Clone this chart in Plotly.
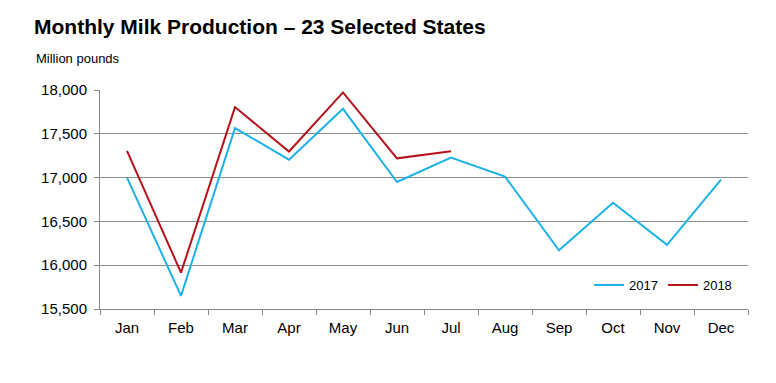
import plotly.graph_objects as go

months = ["Jan", "Feb", "Mar", "Apr", "May", "Jun", "Jul", "Aug", "Sep", "Oct", "Nov", "Dec"]
prod_2017 = [17000, 15650, 17565, 17205, 17785, 16950, 17228, 17012, 16170, 16712, 16232, 16978]
prod_2018 = [17305, 15915, 17805, 17298, 17972, 17220, 17300]
y_ticks = [15500, 16000, 16500, 17000, 17500, 18000]

# page body has an 8px default margin, so the figure is 8px smaller
W, H = 768, 375
L, R, T, B = 92, 28, 82, 74
plot_w = W - L - R
plot_h = H - T - B

fig = go.Figure()
fig.add_trace(go.Scatter(x=months, y=prod_2017, mode="lines", name="2017",
                         line=dict(color="#1CB2E8", width=2)))
fig.add_trace(go.Scatter(x=months[:len(prod_2018)], y=prod_2018, mode="lines", name="2018",
                         line=dict(color="#B3121B", width=2)))

fig.update_layout(
    width=W, height=H,
    margin=dict(l=L, r=R, t=T, b=B),
    paper_bgcolor="white", plot_bgcolor="white",
    font=dict(family="Liberation Sans, Arial, sans-serif", color="#000"),
    title=dict(text="<b>Monthly Milk Production – 23 Selected States</b>",
               x=26 / W, xanchor="left", y=1 - 19 / H, yanchor="middle",
               font=dict(size=21, color="#000")),
    showlegend=True,
    legend=dict(orientation="h", x=(589 - 100) / plot_w, y=(309 - 285) / plot_h,
                xanchor="left", yanchor="middle",
                font=dict(size=13), bgcolor="rgba(0,0,0,0)", itemwidth=30),
    annotations=[dict(text="Million pounds", x=(34 - 100) / plot_w, y=1 + (90 - 58) / plot_h,
                      xref="paper", yref="paper",
                      xanchor="left", yanchor="middle", showarrow=False,
                      font=dict(size=13, color="#000"))],
)

fig.update_xaxes(type="category", categoryorder="array", categoryarray=months,
                 showline=True, linecolor="#888", linewidth=1,
                 ticks="outside", tickson="boundaries", ticklen=5, tickcolor="#888",
                 ticklabelstandoff=5,
                 showgrid=False, tickfont=dict(size=15), range=[-0.5, 11.5])
fig.update_yaxes(range=[15500, 18000], tickvals=y_ticks, tickformat=",",
                 showline=True, linecolor="#888", linewidth=1,
                 ticks="outside", ticklen=5, tickcolor="#888",
                 ticklabelstandoff=4,
                 showgrid=True, gridcolor="#8c8c8c", gridwidth=1,
                 tickfont=dict(size=15), zeroline=False)

fig.write_html("out.html")
